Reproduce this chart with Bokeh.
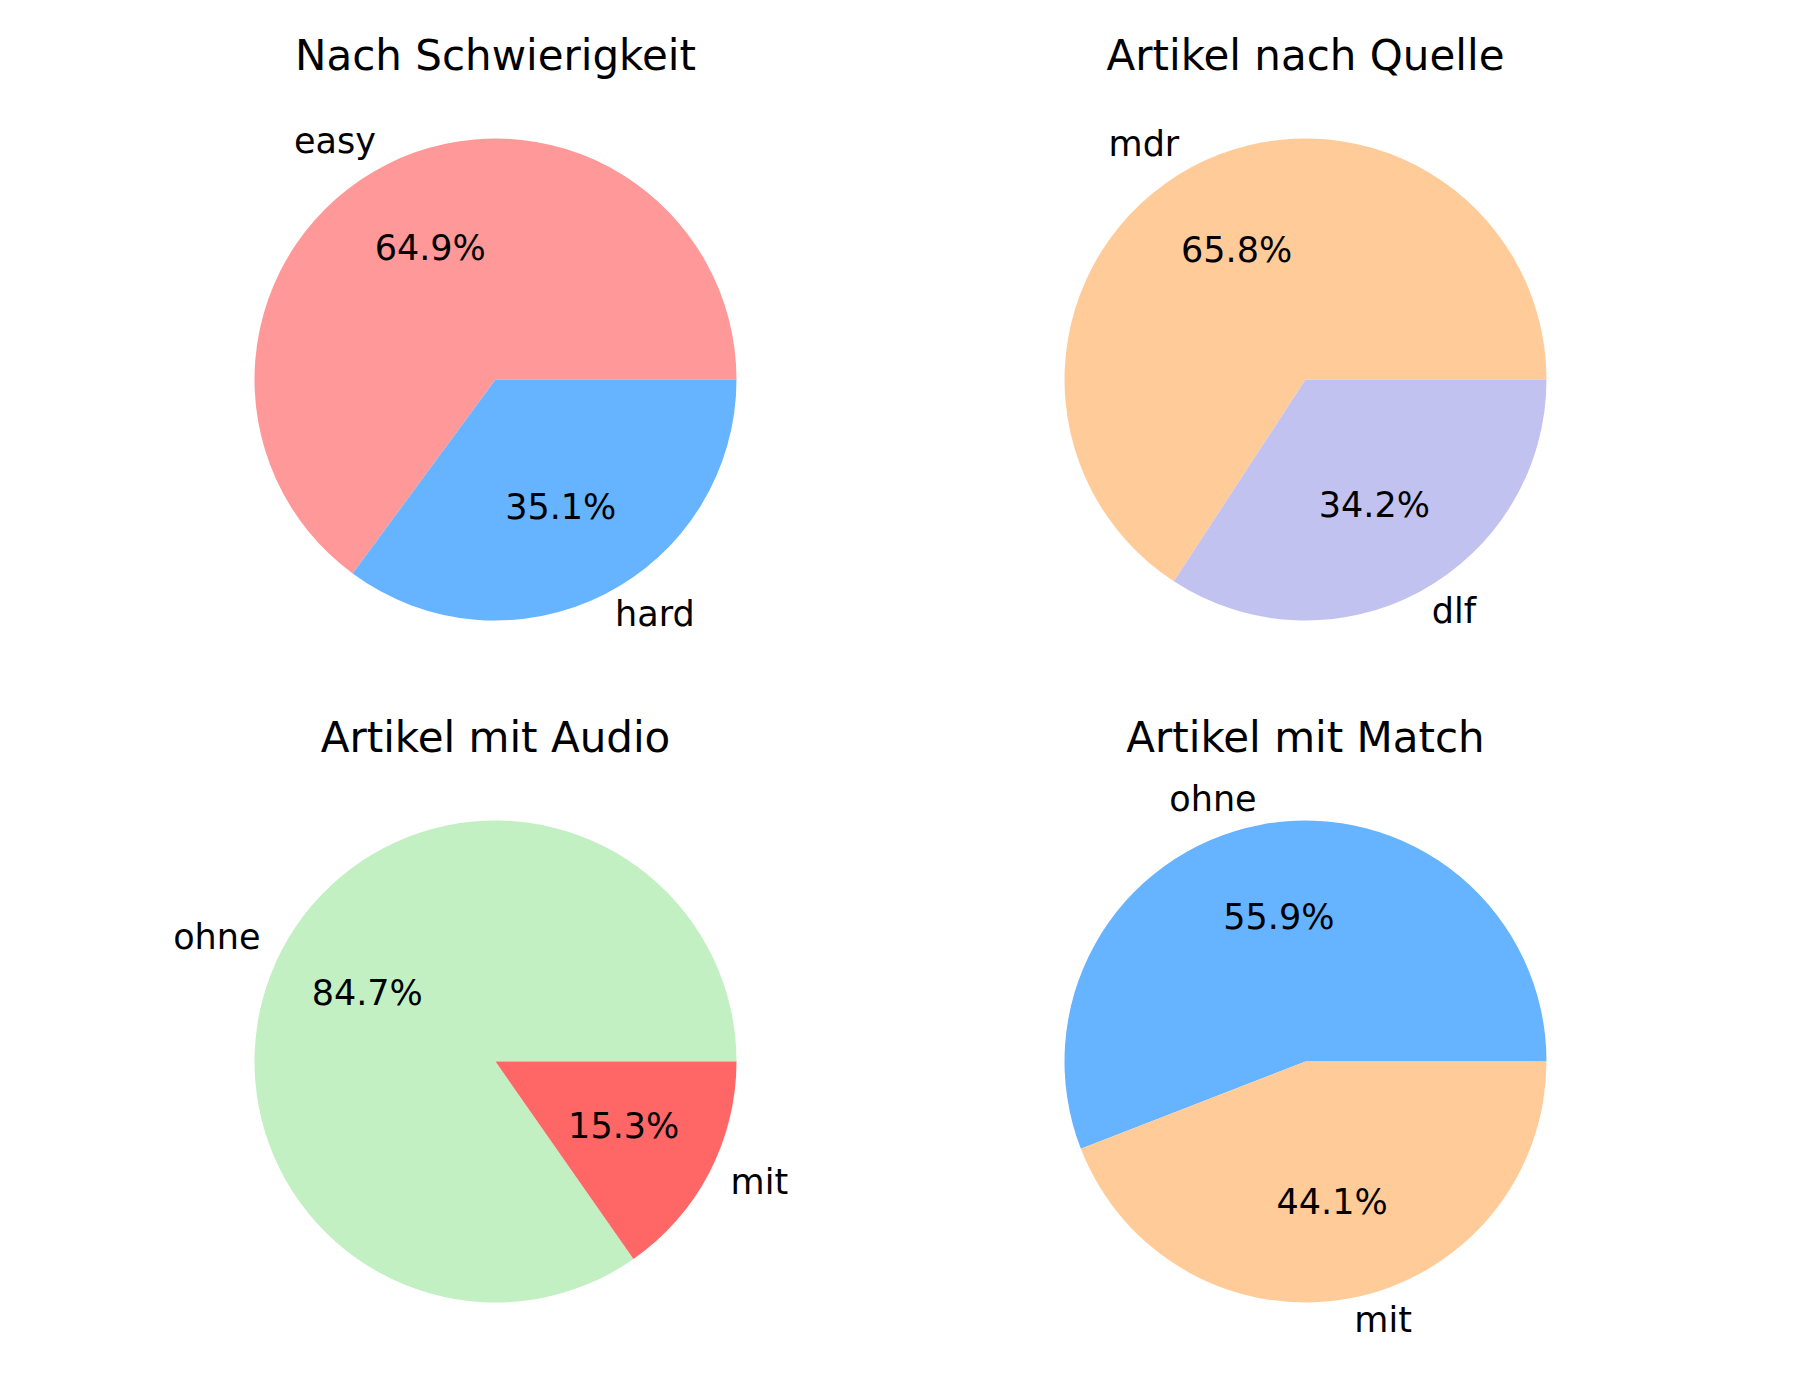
import numpy as np
from bokeh.plotting import figure
from bokeh.models import Range1d
from bokeh.core.properties import value
from bokeh.embed import file_html
from bokeh.resources import INLINE

# ---- data ----
titles = ["Nach Schwierigkeit", "Artikel nach Quelle", "Artikel mit Audio", "Artikel mit Match"]

labels_difficulty = ["easy", "hard"]
values_difficulty = [64.9, 35.1]
colors_difficulty = ["#ff9999", "#66b3ff"]

labels_source = ["mdr", "dlf"]
values_source = [65.8, 34.2]
colors_source = ["#ffcc99", "#c2c2f0"]

labels_audio = ["ohne", "mit"]
values_audio = [84.7, 15.3]
colors_audio = ["#c2f0c2", "#ff6666"]

labels_match = ["ohne", "mit"]
values_match = [55.9, 44.1]
colors_match = ["#66b3ff", "#ffcc99"]

pies = [
    (labels_difficulty, values_difficulty, colors_difficulty),
    (labels_source, values_source, colors_source),
    (labels_audio, values_audio, colors_audio),
    (labels_match, values_match, colors_match),
]

# ---- layout (pixel coordinates, y measured from top) ----
W, H = 1800, 1400
centers_px = [(495, 379), (1305, 379), (495, 1061), (1305, 1061)]
R = 241
title_offset = 324
text_nudge = 2
FONT = value("DejaVu Sans")

p = figure(width=W, height=H, x_range=Range1d(0, W), y_range=Range1d(0, H),
           output_backend="svg", toolbar_location=None,
           x_axis_location=None, y_axis_location=None, min_border=0)
p.outline_line_color = None
p.xgrid.visible = False
p.ygrid.visible = False

for (labels, vals, cols), title, (cxp, cyp) in zip(pies, titles, centers_px):
    cx, cy = cxp, H - cyp
    vals = np.array(vals, dtype=float)
    frac = vals / vals.sum()
    ends = np.cumsum(frac) * 2 * np.pi
    starts = np.concatenate([[0.0], ends[:-1]])
    p.wedge(x=[cx] * len(vals), y=[cy] * len(vals), radius=R,
            start_angle=list(starts), end_angle=list(ends),
            fill_color=cols, line_color=None)
    mids = (starts + ends) / 2
    for lab, v, m in zip(labels, vals, mids):
        lx = cx + 1.1 * R * np.cos(m)
        ly = cy + 1.1 * R * np.sin(m) + text_nudge
        align = "left" if np.cos(m) > 0 else "right"
        p.text(x=[lx], y=[ly], text=[lab], text_font=FONT, text_font_size="35px",
               text_align=align, text_baseline="middle", text_color="black")
        px_ = cx + 0.6 * R * np.cos(m)
        py_ = cy + 0.6 * R * np.sin(m) + text_nudge
        p.text(x=[px_], y=[py_], text=["%.1f%%" % v], text_font=FONT, text_font_size="35px",
               text_align="center", text_baseline="middle", text_color="black")
    p.text(x=[cx], y=[H - (cyp - title_offset)], text=[title], text_font=FONT,
           text_font_size="42px", text_align="center", text_baseline="alphabetic",
           text_color="black")

open("out.html", "w").write(file_html(p, INLINE))
